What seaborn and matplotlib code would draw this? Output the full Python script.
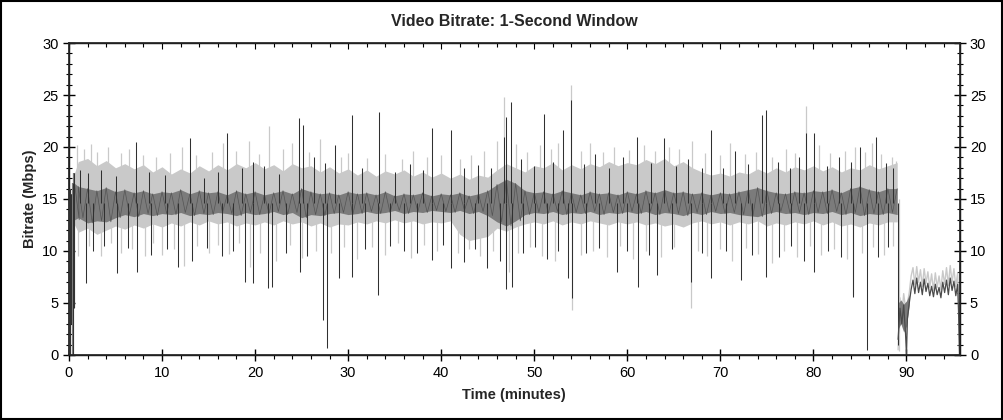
import numpy as np
import pandas as pd
import matplotlib
matplotlib.use("Agg")
import matplotlib.pyplot as plt
from matplotlib.patches import Rectangle
from matplotlib.ticker import MultipleLocator
import seaborn as sns

# main section, sampled once a minute (edges of the light and dark bands)
t_main = [0.6] + list(range(1, 89)) + [89.0]
light_hi = [17.5,
            18.6, 18.9, 18.2, 18.7, 18.0, 18.4, 17.9, 18.3, 17.6, 18.1,
            17.4, 17.9, 17.5, 18.2, 17.7, 18.3, 17.8, 18.4, 18.0, 18.5,
            17.9, 18.3, 17.7, 18.4, 18.0, 18.2, 17.6, 18.1, 17.5, 17.9,
            17.3, 17.8, 17.2, 17.7, 17.4, 17.8, 17.2, 17.6, 17.1, 17.5,
            17.0, 17.4, 16.9, 17.3, 17.1, 17.8, 18.4, 18.0, 17.6, 18.2,
            18.0, 18.5, 17.8, 18.3, 17.9, 18.4, 18.1, 18.6, 18.2, 18.5,
            18.3, 18.8, 18.4, 18.9, 18.2, 18.6, 18.0, 17.6, 17.3, 17.5,
            17.2, 17.6, 17.4, 17.9, 17.5, 18.0, 17.6, 18.1, 17.8, 18.2,
            17.7, 18.1, 17.6, 18.0, 17.8, 18.3, 17.9, 18.2,
            18.5]
light_lo = [12.5,
            11.8, 12.2, 11.6, 12.0, 12.4, 12.1, 12.5, 12.2, 12.6, 12.3,
            12.7, 12.4, 12.8, 12.5, 12.9, 12.6, 12.8, 12.4, 12.7, 12.5,
            12.8, 12.5, 12.9, 12.6, 12.8, 12.4, 12.7, 12.3, 12.6, 12.5,
            12.8, 12.6, 12.9, 12.7, 13.0, 12.7, 12.9, 12.6, 12.8, 12.7,
            12.9, 11.6, 11.0, 11.2, 11.4, 12.2, 11.9, 12.3, 12.6, 12.8,
            12.6, 12.9, 12.5, 12.8, 12.6, 12.9, 12.7, 12.5, 12.8, 12.6,
            12.8, 12.5, 12.7, 12.4, 12.6, 12.3, 12.7, 12.9, 12.6, 12.8,
            12.5, 12.8, 12.6, 12.9, 12.4, 12.7, 12.5, 12.8, 12.6, 12.9,
            12.5, 12.8, 12.4, 12.6, 12.3, 12.7, 12.5, 12.8,
            12.8]
dark_hi = [16.5,
           16.2, 16.0, 15.8, 16.1, 15.7, 15.9, 15.6, 15.8, 15.5, 15.7,
           15.6, 15.9, 15.5, 15.8, 15.6, 15.7, 15.4, 15.8, 15.5, 15.7,
           15.4, 15.6, 15.8, 15.5, 16.0, 15.7, 15.5, 15.6, 15.4, 15.7,
           15.5, 15.6, 15.4, 15.7, 15.3, 15.5, 15.4, 15.6, 15.3, 15.5,
           15.4, 15.6, 15.3, 15.5, 15.8, 16.4, 16.9, 16.5, 15.8, 15.6,
           15.7, 15.5, 15.8, 15.6, 15.4, 15.7, 15.5, 15.6, 15.4, 15.7,
           15.5, 15.8, 15.6, 15.9, 15.6, 15.7, 15.5, 15.6, 15.4, 15.6,
           15.5, 15.7, 15.9, 16.1, 15.8, 15.6, 15.5, 15.7, 15.6, 15.8,
           15.7, 15.9, 15.6, 16.0, 16.2, 15.9, 15.7, 16.0,
           16.0]
dark_lo = [13.0,
           13.2, 12.7, 12.9, 12.8, 13.2, 13.5, 13.3, 13.6, 13.4, 13.6,
           13.5, 13.7, 13.4, 13.6, 13.5, 13.7, 13.6, 13.4, 13.7, 13.5,
           13.6, 13.8, 13.5, 13.7, 13.2, 13.5, 13.4, 13.6, 13.7, 13.5,
           13.6, 13.8, 13.6, 13.7, 13.9, 13.6, 13.8, 13.7, 13.9, 13.8,
           13.7, 13.9, 13.6, 13.8, 13.4, 12.8, 12.4, 12.9, 13.5, 13.7,
           13.6, 13.8, 13.5, 13.7, 13.6, 13.8, 13.5, 13.7, 13.6, 13.8,
           13.6, 13.8, 13.5, 13.7, 13.6, 13.4, 13.7, 13.5, 13.8, 13.6,
           13.7, 13.5, 13.4, 13.3, 13.6, 13.8, 13.6, 13.7, 13.5, 13.7,
           13.6, 13.8, 13.5, 13.7, 13.4, 13.6, 13.5, 13.7,
           13.5]

# dark spikes (time in minutes, peak bitrate)
black_t = [1.2, 2.0, 3.4, 5.0, 7.2, 8.6, 10.3, 13.0, 14.5, 16.0, 17.0, 18.6,
           19.8, 21.0, 22.6, 24.7, 25.1, 26.3, 27.5, 28.6, 30.4, 31.5, 33.3,
           35.0, 36.6, 38.0, 39.0, 41.1, 42.5, 44.0, 45.4, 46.7, 47.0, 47.5,
           48.6, 50.0, 51.1, 52.0, 53.1, 54.0, 55.3, 56.5, 58.0, 59.5, 61.0,
           62.5, 63.9, 65.2, 66.5, 68.0, 69.0, 70.3, 71.6, 73.0, 74.5, 74.9,
           76.2, 77.5, 78.4, 79.2, 80.1, 81.5, 82.8, 84.0, 85.0, 86.7, 87.8,
           88.6,
           1.8, 2.6, 3.8, 5.2, 6.3, 7.3, 8.8, 10.5, 11.7, 13.2, 14.8, 16.4,
           17.6, 18.9, 19.8, 21.4, 21.8, 23.3, 24.8, 25.6, 27.3, 27.7, 29.0,
           30.4, 31.8, 33.2, 34.5, 36.0, 37.4, 39.0, 40.2, 41.1, 42.4, 43.6,
           44.9, 46.3, 47.0, 47.6, 48.8, 50.1, 51.4, 52.6, 53.6, 54.1, 55.6,
           57.0, 58.9, 60.0, 61.1, 62.3, 63.2, 64.8, 66.8, 68.0, 69.0, 70.6,
           72.2, 73.4, 74.9, 76.3, 77.6, 79.0, 80.1, 81.6, 83.0, 84.2, 85.8,
           86.9, 88.0, 89.05]
black_v = [17.8, 17.5, 17.8, 17.2, 20.5, 17.6, 17.3, 20.9, 17.0, 17.6, 21.3, 18.0,
           18.6, 18.2, 17.4, 22.8, 22.1, 19.0, 18.5, 20.2, 23.1, 18.0, 23.4,
           17.6, 18.4, 17.8, 21.8, 21.6, 18.0, 18.3, 18.0, 21.0, 22.9, 24.3,
           18.8, 18.2, 23.2, 18.6, 21.6, 24.5, 18.4, 19.3, 18.0, 19.0, 21.0,
           18.5, 20.9, 18.2, 18.8, 18.0, 21.6, 18.0, 19.6, 18.4, 23.1, 23.6,
           18.6, 18.0, 19.0, 21.3, 21.3, 18.2, 19.0, 18.6, 20.0, 21.0, 18.5,
           18.0,
           6.9, 10.0, 10.5, 7.9, 10.3, 8.0, 9.6, 10.2, 8.5, 9.0, 10.3, 9.5,
           10.0, 7.0, 6.9, 6.4, 6.5, 9.8, 8.0, 9.5, 3.4, 0.7, 7.4,
           7.5, 10.2, 5.8, 10.5, 10.0, 9.8, 9.1, 10.6, 8.4, 8.9, 10.2,
           8.4, 9.0, 6.3, 6.5, 9.8, 10.4, 9.2, 10.0, 7.4, 5.5, 9.8,
           10.3, 8.0, 10.0, 6.5, 9.6, 7.7, 10.2, 7.0, 9.8, 7.4, 10.0,
           7.2, 9.6, 7.5, 9.4, 10.5, 9.0, 8.0, 10.0, 9.4, 5.6, 0.5,
           9.4, 10.4, 1.0]

# light gray spikes
light_t = [0.9, 1.6, 2.4, 3.0, 4.2, 5.6, 6.4, 8.0, 9.4, 10.9, 12.1, 13.6, 15.4,
           16.6, 18.0, 19.3, 20.4, 21.5, 23.0, 24.0, 25.8, 27.0, 29.2, 30.0,
           32.0, 34.0, 35.8, 37.0, 38.5, 40.0, 42.0, 43.2, 44.6, 46.0, 46.7,
           48.0, 49.2, 50.6, 51.8, 52.6, 54.0, 55.0, 56.0, 57.4, 58.6, 60.2,
           61.8, 63.0, 64.5, 65.6, 67.0, 68.4, 70.0, 71.0, 72.6, 73.8, 75.6,
           77.0, 78.0, 79.2, 80.6, 81.8, 83.4, 84.5, 85.5, 86.3, 87.3, 88.4,
           88.9,
           1.0, 2.2, 3.4, 4.5, 5.6, 6.8, 8.2, 9.0, 10.0, 11.3, 12.4, 13.8,
           15.0, 16.0, 17.2, 18.3, 19.5, 20.5, 22.2, 23.8, 25.0, 26.5, 28.2,
           29.6, 31.0, 32.6, 34.0, 35.4, 36.8, 38.2, 39.6, 41.8, 43.0, 44.2,
           45.6, 47.3, 48.2, 49.5, 50.8, 52.2, 54.1, 55.0, 56.3, 57.8, 59.2,
           60.6, 62.0, 63.6, 65.0, 66.8, 67.6, 68.6, 70.0, 71.3, 72.8, 74.0,
           75.5, 76.8, 78.2, 79.6, 80.8, 82.2, 83.6, 84.2, 85.2, 86.4, 87.6,
           88.5, 89.15]
light_v = [20.2, 19.8, 20.3, 19.5, 20.0, 19.4, 19.8, 19.2, 19.0, 19.4, 20.0, 19.2, 19.5,
           20.4, 19.6, 20.6, 19.3, 22.0, 19.8, 20.4, 19.5, 20.8, 19.0, 19.4,
           18.9, 19.3, 18.8, 19.6, 19.0, 19.2, 18.8, 19.2, 19.6, 20.6, 24.8,
           20.3, 19.5, 20.2, 19.8, 20.4, 26.0, 19.6, 20.4, 19.5, 20.0, 19.7,
           20.2, 19.6, 20.0, 19.8, 20.6, 19.4, 19.2, 20.4, 19.3, 19.5, 19.0,
           19.8, 19.4, 23.9, 20.2, 19.4, 19.6, 20.0, 19.5, 20.4, 19.3, 19.0,
           18.7,
           9.5, 10.5, 9.5, 10.8, 9.8, 10.2, 9.5, 10.8, 9.6, 10.2, 8.6, 10.5,
           9.8, 10.6, 9.7, 10.8, 8.5, 9.8, 9.0, 10.6, 9.3, 10.0, 9.8,
           10.4, 9.2, 10.4, 9.6, 10.8, 9.3, 10.6, 10.0, 9.8, 10.2, 9.5,
           10.0, 8.0, 9.8, 10.4, 9.5, 9.0, 4.3, 9.6, 10.0, 9.4, 10.5,
           9.2, 10.0, 9.4, 10.4, 4.5, 10.0, 9.5, 10.2, 9.0, 10.3, 9.7,
           8.8, 10.0, 9.4, 10.5, 9.6, 10.2, 9.2, 5.8, 9.8, 10.4, 9.6,
           10.5, 0.4]

# very start of the programme
start_t = [0.1, 0.25, 0.4, 0.55]
start_lo = [0.0, 3.0, 0.0, 4.5]
start_hi = [16.0, 15.5, 16.5, 17.5]

# end credits section
tail_t = [89.1, 89.3, 89.5, 89.7, 89.9, 90.0, 90.1, 90.3, 90.5, 90.7, 90.9,
          91.1, 91.3, 91.5, 91.7, 91.9, 92.1, 92.3, 92.5, 92.7, 92.9, 93.1,
          93.3, 93.5, 93.7, 93.9, 94.1, 94.3, 94.5, 94.7, 94.9, 95.1, 95.3,
          95.5, 95.6, 95.7]
tail_dark = [1.5, 4.5, 3.0, 4.8, 2.0, 0.0, 3.5, 5.0, 6.3, 7.2, 5.9,
             7.4, 6.0, 7.0, 5.8, 7.3, 6.1, 6.9, 5.7, 6.6, 5.6, 6.8,
             5.8, 6.5, 5.5, 7.0, 6.0, 7.2, 5.8, 7.4, 6.2, 7.1, 5.7,
             6.8, 4.0, 0.0]
tail_light = [0.5, 5.5, 3.8, 5.9, 4.5, 2.0, 5.0, 6.0, 7.6, 8.4, 6.8,
              8.5, 7.0, 8.2, 6.6, 8.3, 6.9, 8.0, 6.5, 7.8, 6.2, 7.9,
              6.5, 7.6, 6.3, 8.1, 6.8, 8.4, 6.7, 8.6, 7.0, 8.3, 6.6,
              7.9, 5.0, 0.0]
tail_band_t = [89.1, 89.4, 89.7, 90.0, 90.3]
tail_band_lo = [2.5, 3.0, 2.2, 2.8, 4.8]
tail_band_hi = [5.0, 5.3, 4.9, 5.2, 5.8]

LIGHT = "#c9c9c9"
DARK = "#7b7b7b"
INK = "#303030"

sns.set_theme(style="ticks")
plt.rcParams["font.family"] = ["Liberation Sans", "DejaVu Sans"]

fig = plt.figure(figsize=(10.04, 4.20), dpi=100)
ax = fig.add_axes([0.0687, 0.1548, 0.8870, 0.7428])

# light gray layer
lv = np.array(light_v)
ax.vlines(light_t, np.minimum(lv, 15.0), np.maximum(lv, 15.0),
          colors=LIGHT, lw=0.9, zorder=1)
ax.fill_between(t_main, light_lo, light_hi, color=LIGHT, lw=0, zorder=2)
tail = pd.DataFrame({"t": tail_t, "light": tail_light, "dark": tail_dark})
sns.lineplot(data=tail, x="t", y="light", color=LIGHT, lw=1.0, ax=ax,
             zorder=2)

# dark gray layer, with a zigzag through it for the per-second texture
ax.fill_between(t_main, dark_lo, dark_hi, color=DARK, lw=0, zorder=3)
zig_t = np.ravel(np.column_stack([t_main, np.array(t_main) + 0.5]))[:-1]
zig_v = np.ravel(np.column_stack([dark_hi, dark_lo]))[:-1]
ax.plot(zig_t, zig_v, color="#555555", lw=0.5, zorder=3)
ax.fill_between(tail_band_t, tail_band_lo, tail_band_hi, color=DARK, lw=0,
                zorder=3)
ax.vlines(start_t, start_lo, start_hi, colors=DARK, lw=1.6, zorder=3)

# black spikes
bv = np.array(black_v)
ax.vlines(black_t, np.minimum(bv, 14.6), np.maximum(bv, 14.6),
          colors=INK, lw=0.75, zorder=4)
ax.vlines(start_t, start_lo, start_hi, colors=INK, lw=0.7, zorder=4)
sns.lineplot(data=tail, x="t", y="dark", color="#4a4a4a", lw=0.9, ax=ax,
             zorder=4)

ax.set_xlim(0, 95.7)
ax.set_ylim(0, 30)
ax.xaxis.set_major_locator(MultipleLocator(10))
ax.xaxis.set_minor_locator(MultipleLocator(2))
ax.yaxis.set_major_locator(MultipleLocator(5))
ax.yaxis.set_minor_locator(MultipleLocator(1))
ax.tick_params(axis="y", which="both", left=True, right=True,
               labelleft=True, labelright=True, direction="inout",
               labelsize=10.5, colors="black", width=1)
ax.tick_params(axis="y", which="major", length=9, pad=3)
ax.tick_params(axis="y", which="minor", length=5, width=0.8)
ax.tick_params(axis="x", which="both", bottom=True, top=False,
               labelsize=10.5, colors="black", width=1)
ax.tick_params(axis="x", which="major", direction="inout", length=9)
ax.tick_params(axis="x", which="minor", direction="out", length=3,
               width=0.8)

# top axis only carries short inward ticks
top = ax.twiny()
top.set_xlim(ax.get_xlim())
top.xaxis.set_major_locator(MultipleLocator(10))
top.xaxis.set_minor_locator(MultipleLocator(2))
top.tick_params(axis="x", which="both", top=True, bottom=False,
                direction="in", labeltop=False, colors="black", width=0.8)
top.tick_params(axis="x", which="major", length=4)
top.tick_params(axis="x", which="minor", length=3)
top.tick_params(axis="y", left=False, right=False, labelleft=False,
                labelright=False)

for s in ax.spines.values():
    s.set_color("black")
    s.set_linewidth(1.0)

ax.set_title("Video Bitrate: 1-Second Window", fontsize=11.5,
             fontweight="bold", pad=12)
ax.set_xlabel("Time (minutes)", fontsize=10.5, fontweight="bold", labelpad=6)
ax.set_ylabel("Bitrate (Mbps)", fontsize=10.5, fontweight="bold", labelpad=4)
ax.grid(False)

fig.patches.append(Rectangle((0.001, 0.002), 0.997, 0.995,
                             transform=fig.transFigure, fill=False,
                             edgecolor="black", lw=1.5))

fig.savefig("out.png", dpi=100, facecolor="white")
